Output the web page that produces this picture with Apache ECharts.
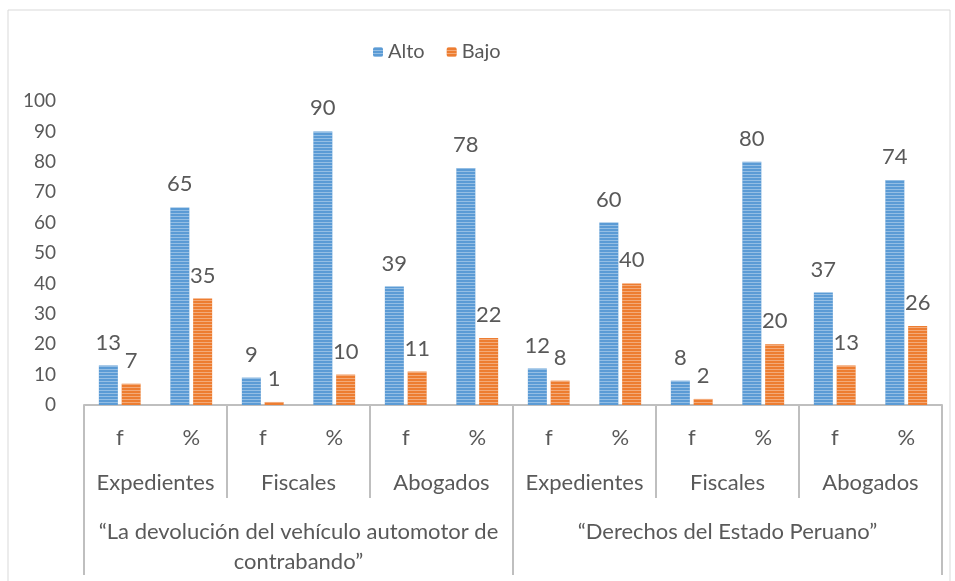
<!DOCTYPE html>
<html>
<head>
<meta charset="utf-8">
<script src="https://cdn.jsdelivr.net/npm/echarts@6/dist/echarts.min.js"></script>
<style>
  html, body { margin: 0; padding: 0; background: #fff; }
  #main { width: 955px; height: 581px; }
</style>
</head>
<body>
<div id="main"></div>
<script>
  // datos
  var medidas = ['f', '%', 'f', '%', 'f', '%', 'f', '%', 'f', '%', 'f', '%'];
  var grupos = ['Expedientes', 'Fiscales', 'Abogados', 'Expedientes', 'Fiscales', 'Abogados'];
  var variables = ['“La devolución del vehículo automotor de\ncontrabando”', '“Derechos del Estado Peruano”'];
  var alto = [13, 65, 9, 90, 39, 78, 12, 60, 8, 80, 37, 74];
  var bajo = [7, 35, 1, 10, 11, 22, 8, 40, 2, 20, 13, 26];

  var gris = '#595959';
  var linea = '#BFBFBF';
  var fuente = 'Lato';

  let myChart = echarts.init(document.getElementById('main'));

  function rayas() {
    return {
      symbol: 'rect',
      symbolSize: 1,
      dashArrayX: [1, 0],
      dashArrayY: [1, 2],
      rotation: 0,
      color: 'rgba(255,255,255,0.35)'
    };
  }

  let option = {
    animation: false,
    textStyle: { fontFamily: fuente },
    graphic: [{
      type: 'rect',
      shape: { x: 8, y: 10, width: 942, height: 620 },
      style: { fill: 'none', stroke: '#D9D9D9', lineWidth: 1 },
      silent: true
    }],
    legend: {
      left: 368,
      top: 37,
      itemWidth: 10,
      itemHeight: 10,
      itemGap: 22,
      textStyle: { color: gris, fontSize: 20, fontFamily: fuente },
      data: ['Alto', 'Bajo']
    },
    grid: { left: 84, right: 13, top: 101, bottom: 176, containLabel: false },
    xAxis: [
      {
        type: 'category',
        data: medidas,
        position: 'bottom',
        axisLine: { lineStyle: { color: linea, width: 2 } },
        axisTick: { show: false },
        axisLabel: { color: gris, fontSize: 22, margin: 22, interval: 0 }
      },
      {
        type: 'category',
        data: grupos,
        position: 'bottom',
        axisLine: { show: false },
        axisTick: { show: true, length: 93, lineStyle: { color: linea, width: 2 } },
        axisLabel: { color: gris, fontSize: 22, margin: 67, interval: 0 }
      },
      {
        type: 'category',
        data: variables,
        position: 'bottom',
        axisLine: { show: false },
        axisTick: { show: true, length: 170, lineStyle: { color: linea, width: 2 } },
        axisLabel: { color: gris, fontSize: 22, margin: 112, interval: 0, lineHeight: 30 }
      }
    ],
    yAxis: {
      type: 'value',
      min: 0,
      max: 100,
      interval: 10,
      axisLine: { show: false },
      axisTick: { show: false },
      splitLine: { show: false },
      axisLabel: { color: gris, fontSize: 19, margin: 28 }
    },
    series: [
      {
        name: 'Alto',
        type: 'bar',
        xAxisIndex: 0,
        data: alto,
        barWidth: 19,
        barGap: '20%',
        itemStyle: { color: '#5B9BD5', decal: rayas() },
        label: { show: true, position: 'top', distance: 12, color: gris, fontSize: 22 }
      },
      {
        name: 'Bajo',
        type: 'bar',
        xAxisIndex: 0,
        data: bajo,
        barWidth: 19,
        barGap: '20%',
        itemStyle: { color: '#ED7D31', decal: rayas() },
        label: { show: true, position: 'top', distance: 12, color: gris, fontSize: 22 }
      }
    ]
  };

  myChart.setOption(option);
</script>
</body>
</html>
